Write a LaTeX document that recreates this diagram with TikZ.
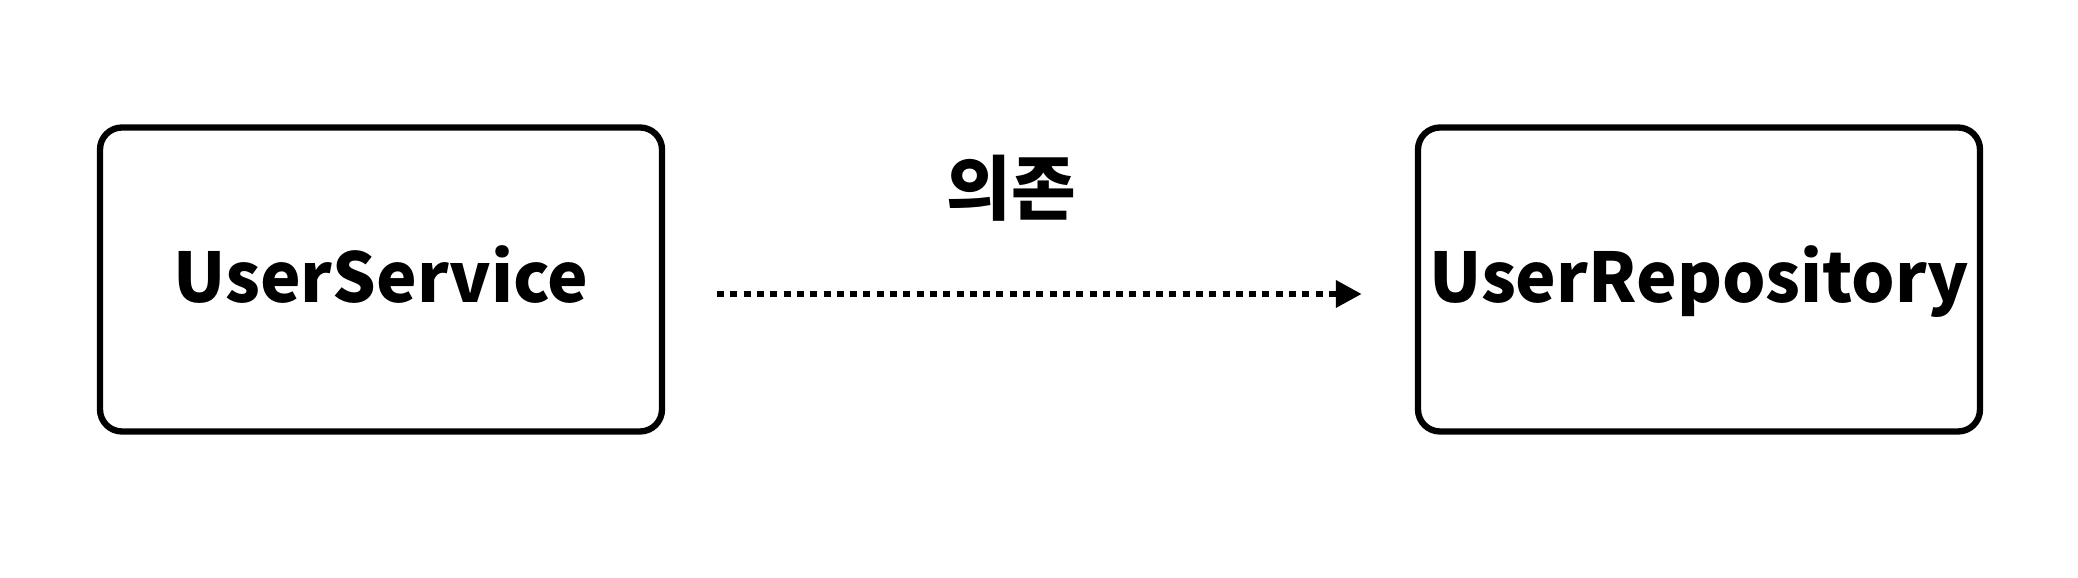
\documentclass[tikz,border=0pt]{standalone}
\usepackage{fontspec}
\newfontfamily\krfont{Noto Sans CJK KR}
\usetikzlibrary{arrows.meta, positioning}

\tikzset{
	caja/.style={draw, line width=1.8pt, rounded corners=2.2mm, inner xsep=0pt, minimum width=56.2cm/10, minimum height=30.4cm/10, text height=4.6mm, text depth=0mm, font=\krfont\bfseries\fontsize{19.5pt}{24pt}\selectfont},
	dep/.style={line width=1.9pt, dash pattern=on 0.7mm off 0.63mm, -{Triangle[length=2.6mm,width=2.6mm]}}
}

\begin{document}
\begin{tikzpicture}
			\useasboundingbox (0,0) rectangle (20.78,5.78);
			
			% Cajas
			\node[caja] (US) at (3.81,2.985) {UserService};
			\node[caja] (UR) at (16.99,2.985) {UserRepository};
			
			% Flecha de dependencia
			\draw[dep, shorten <=5.2mm, shorten >=5.3mm] ([yshift=-1.45mm]US.east) -- ([yshift=-1.45mm]UR.west);
			
			% Etiqueta
			\node[font=\krfont\bfseries\fontsize{20pt}{24pt}\selectfont] (L) at (10.11,3.9) {의존};
			
		\end{tikzpicture}
\end{document}
